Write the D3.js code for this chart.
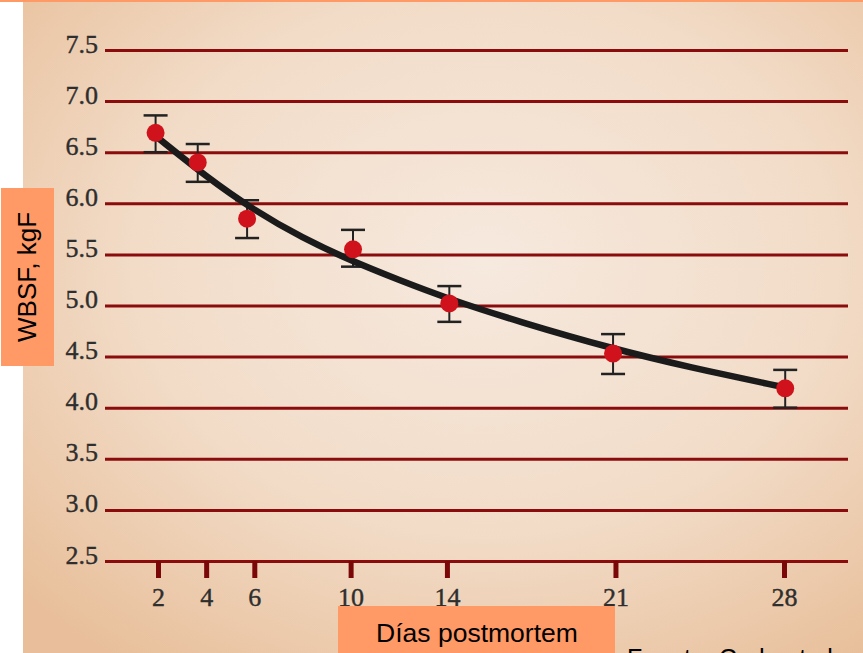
<!DOCTYPE html>
<html>
<head>
<meta charset="utf-8">
<script src="https://cdn.jsdelivr.net/npm/d3@7"></script>
<style>
  html, body { margin: 0; padding: 0; background: #fff; }
  svg { display: block; }
</style>
</head>
<body>
<div id="chart"></div>
<script>
// tick labels
var dias = [2, 4, 6, 10, 14, 21, 28];
var yTicks = [2.5, 3.0, 3.5, 4.0, 4.5, 5.0, 5.5, 6.0, 6.5, 7.0, 7.5];

// measured points (day position as drawn), mean WBSF and error bar ends
var diasPunto = [1.9, 3.65, 5.7, 10.1, 14.1, 20.9, 28.05];
var wbsf = [6.69, 6.40, 5.85, 5.55, 5.02, 4.53, 4.19];
var errSup = [6.86, 6.58, 6.03, 5.74, 5.19, 4.72, 4.37];
var errInf = [6.50, 6.21, 5.66, 5.38, 4.84, 4.33, 4.00];

// fitted trend curve
var curvaDias = [2, 4, 6, 8, 10, 12, 14, 17, 21, 24, 28];
var curvaWbsf = [6.64, 6.26, 5.93, 5.66, 5.44, 5.25, 5.07, 4.84, 4.57, 4.40, 4.20];

var W = 863, H = 653;
var gridLeft = 105, gridRight = 848;

var svg = d3.select('#chart').append('svg')
    .attr('width', W)
    .attr('height', H);

// background panel
var defs = svg.append('defs');
var grad = defs.append('radialGradient')
    .attr('id', 'bg')
    .attr('cx', '55%').attr('cy', '40%').attr('r', '75%');
grad.append('stop').attr('offset', '0%').attr('stop-color', '#f6e9de');
grad.append('stop').attr('offset', '55%').attr('stop-color', '#f2dcc8');
grad.append('stop').attr('offset', '100%').attr('stop-color', '#e8bf9a');

svg.append('rect')
    .attr('x', 23).attr('y', 2)
    .attr('width', W - 23).attr('height', H - 2)
    .attr('fill', 'url(#bg)');

svg.append('rect')
    .attr('x', 0).attr('y', 0)
    .attr('width', W).attr('height', 2)
    .attr('fill', '#ff9966');

var x = d3.scaleLinear().domain([2, 28]).range([158, 784]);
var y = d3.scaleLinear().domain([2.5, 7.5]).range([561, 50]);

var serif = '"Liberation Serif", "DejaVu Serif", serif';
var sans = '"Liberation Sans", Arial, sans-serif';

// y axis with gridlines
var yAxis = d3.axisLeft(y)
    .tickValues(yTicks)
    .tickSize(-(gridRight - gridLeft))
    .tickPadding(7)
    .tickFormat(d3.format('.1f'));

var gy = svg.append('g')
    .attr('transform', 'translate(' + gridLeft + ',0)')
    .call(yAxis);
gy.select('.domain').remove();
gy.selectAll('.tick line')
    .attr('stroke', '#8a0c0c')
    .attr('stroke-width', 3);
gy.selectAll('.tick text')
    .attr('dy', 2)
    .attr('fill', '#2e2e2e')
    .attr('stroke', '#2e2e2e')
    .attr('stroke-width', 0.4)
    .style('font-family', serif)
    .style('font-size', '26px');

// x axis ticks
var xAxis = d3.axisBottom(x)
    .tickValues(dias)
    .tickSize(17)
    .tickPadding(10);

var gx = svg.append('g')
    .attr('transform', 'translate(0,' + y(2.5) + ')')
    .call(xAxis);
gx.select('.domain').remove();
gx.selectAll('.tick line')
    .attr('stroke', '#7a0808')
    .attr('stroke-width', 5);
gx.selectAll('.tick text')
    .attr('fill', '#2e2e2e')
    .attr('stroke', '#2e2e2e')
    .attr('stroke-width', 0.4)
    .style('font-family', serif)
    .style('font-size', '26px');

// error bars
var barras = svg.append('g');
var capW = 12;
diasPunto.forEach(function (d, i) {
    var cx = x(d);
    barras.append('line')
        .attr('x1', cx).attr('x2', cx)
        .attr('y1', y(errSup[i])).attr('y2', y(errInf[i]))
        .attr('stroke', '#222').attr('stroke-width', 2);
    barras.append('line')
        .attr('x1', cx - capW).attr('x2', cx + capW)
        .attr('y1', y(errSup[i])).attr('y2', y(errSup[i]))
        .attr('stroke', '#222').attr('stroke-width', 2.5);
    barras.append('line')
        .attr('x1', cx - capW).attr('x2', cx + capW)
        .attr('y1', y(errInf[i])).attr('y2', y(errInf[i]))
        .attr('stroke', '#222').attr('stroke-width', 2.5);
});

// trend curve
var linea = d3.line()
    .x(function (d, i) { return x(curvaDias[i]); })
    .y(function (d) { return y(d); })
    .curve(d3.curveBasis);

svg.append('path')
    .datum(curvaWbsf)
    .attr('d', linea)
    .attr('fill', 'none')
    .attr('stroke', '#1b1b1b')
    .attr('stroke-width', 6.5)
    .attr('stroke-linecap', 'round');

// points
svg.append('g').selectAll('circle')
    .data(wbsf)
    .enter().append('circle')
    .attr('cx', function (d, i) { return x(diasPunto[i]); })
    .attr('cy', function (d) { return y(d); })
    .attr('r', 9)
    .attr('fill', '#d0121c');

// y label box
svg.append('rect')
    .attr('x', 1).attr('y', 188)
    .attr('width', 53).attr('height', 178)
    .attr('fill', '#ff9966');
svg.append('text')
    .attr('transform', 'translate(36,277) rotate(-90)')
    .attr('text-anchor', 'middle')
    .attr('fill', '#000')
    .style('font-family', sans)
    .style('font-size', '26px')
    .text('WBSF, kgF');

// x label box
svg.append('rect')
    .attr('x', 338).attr('y', 606)
    .attr('width', 277).attr('height', 47)
    .attr('fill', '#ff9966');
svg.append('text')
    .attr('x', 477).attr('y', 642)
    .attr('text-anchor', 'middle')
    .attr('fill', '#000')
    .style('font-family', sans)
    .style('font-size', '26.5px')
    .text('Días postmortem');

// source note, cut off by the bottom edge as in the original
svg.append('text')
    .attr('x', 627).attr('y', 667)
    .attr('fill', '#000')
    .style('font-family', sans)
    .style('font-size', '25px')
    .text('Fuente: Cedo et al.');
</script>
</body>
</html>
